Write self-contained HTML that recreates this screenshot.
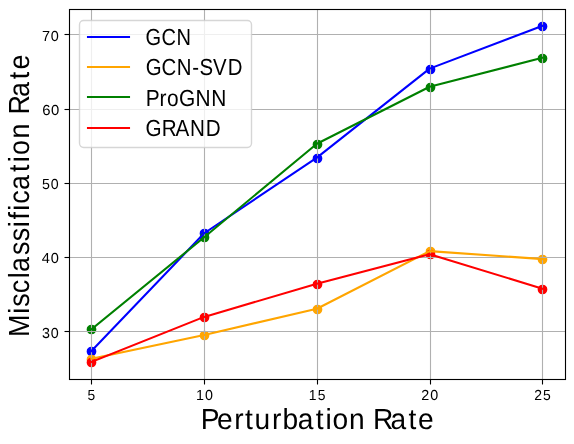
<!DOCTYPE html>
<html><head><meta charset="utf-8"><title>Misclassification Rate vs Perturbation Rate</title>
<style>
html,body{margin:0;padding:0;background:#fff;}
svg{display:block;will-change:transform;}
text{font-family:"Liberation Sans",sans-serif;fill:#000;text-rendering:geometricPrecision;}
</style></head><body>
<svg width="574" height="444" viewBox="0 0 574 444">
<rect x="0" y="0" width="574" height="444" fill="#fff"/>
<defs><clipPath id="ax"><rect x="68.903" y="9.122" width="496.000" height="369.600"/></clipPath></defs>
<g clip-path="url(#ax)">
<g fill="#0000ff" stroke="#0000ff" stroke-width="1.389"><circle cx="91.5" cy="351.5" r="4.167"/><circle cx="204.5" cy="233.5" r="4.167"/><circle cx="317.5" cy="158.5" r="4.167"/><circle cx="430.5" cy="69.5" r="4.167"/><circle cx="542.5" cy="26.5" r="4.167"/></g>
<g fill="#ffa500" stroke="#ffa500" stroke-width="1.389"><circle cx="91.5" cy="359.5" r="4.167"/><circle cx="204.5" cy="335.5" r="4.167"/><circle cx="317.5" cy="309.5" r="4.167"/><circle cx="430.5" cy="251.5" r="4.167"/><circle cx="542.5" cy="259.5" r="4.167"/></g>
<g fill="#008000" stroke="#008000" stroke-width="1.389"><circle cx="91.5" cy="329.5" r="4.167"/><circle cx="204.5" cy="237.5" r="4.167"/><circle cx="317.5" cy="144.5" r="4.167"/><circle cx="430.5" cy="87.5" r="4.167"/><circle cx="542.5" cy="58.5" r="4.167"/></g>
<g fill="#ff0000" stroke="#ff0000" stroke-width="1.389"><circle cx="91.5" cy="362.5" r="4.167"/><circle cx="204.5" cy="317.5" r="4.167"/><circle cx="317.5" cy="284.5" r="4.167"/><circle cx="430.5" cy="254.5" r="4.167"/><circle cx="542.5" cy="289.5" r="4.167"/></g>
</g>
<g stroke="#b0b0b0" stroke-width="1.111" fill="none">
<line x1="91.5" y1="9.5" x2="91.5" y2="379.5"/><line x1="204.5" y1="9.5" x2="204.5" y2="379.5"/><line x1="317.5" y1="9.5" x2="317.5" y2="379.5"/><line x1="430.5" y1="9.5" x2="430.5" y2="379.5"/><line x1="542.5" y1="9.5" x2="542.5" y2="379.5"/><line x1="69.5" y1="331.5" x2="565.5" y2="331.5"/><line x1="69.5" y1="257.5" x2="565.5" y2="257.5"/><line x1="69.5" y1="183.5" x2="565.5" y2="183.5"/><line x1="69.5" y1="109.5" x2="565.5" y2="109.5"/><line x1="69.5" y1="34.5" x2="565.5" y2="34.5"/>
</g>
<g stroke="#000" stroke-width="1.111">
<line x1="91.5" y1="379.5" x2="91.5" y2="384.5"/><line x1="204.5" y1="379.5" x2="204.5" y2="384.5"/><line x1="317.5" y1="379.5" x2="317.5" y2="384.5"/><line x1="430.5" y1="379.5" x2="430.5" y2="384.5"/><line x1="542.5" y1="379.5" x2="542.5" y2="384.5"/><line x1="64.5" y1="331.5" x2="69.5" y2="331.5"/><line x1="64.5" y1="257.5" x2="69.5" y2="257.5"/><line x1="64.5" y1="183.5" x2="69.5" y2="183.5"/><line x1="64.5" y1="109.5" x2="69.5" y2="109.5"/><line x1="64.5" y1="34.5" x2="69.5" y2="34.5"/>
</g>
<g clip-path="url(#ax)" fill="none" stroke-linejoin="round" stroke-linecap="square">
<polyline points="91.45,351.08 204.18,233.26 316.90,157.63 429.63,68.64 542.36,25.92" stroke="#0000ff" stroke-width="2.083"/>
<polyline points="91.45,358.80 204.18,335.03 316.90,308.73 429.63,251.16 542.36,259.03" stroke="#ffa500" stroke-width="2.083"/>
<polyline points="91.45,329.38 204.18,237.19 316.90,143.74 429.63,86.76 542.36,57.87" stroke="#008000" stroke-width="2.083"/>
<polyline points="91.45,361.92 204.18,316.90 316.90,283.77 429.63,254.21 542.36,288.67" stroke="#ff0000" stroke-width="2.083"/>
</g>
<rect x="69.5" y="9.5" width="496.0" height="370.0" fill="none" stroke="#000" stroke-width="1.111" stroke-linejoin="miter"/>
<rect x="79.5" y="20.5" width="172.0" height="127.0" rx="4.167" ry="4.167" fill="#fff" fill-opacity="0.8" stroke="#ccc" stroke-opacity="0.8" stroke-width="1.389"/>
<line x1="88" y1="37" x2="129" y2="37" stroke="#0000ff" stroke-width="2.083" stroke-linecap="square"/>
<line x1="88" y1="67" x2="129" y2="67" stroke="#ffa500" stroke-width="2.083" stroke-linecap="square"/>
<line x1="88" y1="97" x2="129" y2="97" stroke="#008000" stroke-width="2.083" stroke-linecap="square"/>
<line x1="88" y1="128" x2="129" y2="128" stroke="#ff0000" stroke-width="2.083" stroke-linecap="square"/>
<text transform="translate(86.953,400.000) scale(0.9506,1)" x="0.55" y="0" font-size="14.535">5</text>
<text transform="translate(195.687,400.000) scale(0.9858,1)" x="0.37 9.39" y="0" font-size="14.535">10</text>
<text transform="translate(308.361,400.000) scale(0.9561,1)" x="0.51 9.75" y="0" font-size="14.535">15</text>
<text transform="translate(420.923,400.000) scale(0.9895,1)" x="0.23 9.34" y="0" font-size="14.535">20</text>
<text transform="translate(533.794,400.000) scale(0.9606,1)" x="0.36 9.69" y="0" font-size="14.535">25</text>
<text transform="translate(41.596,338.000) scale(0.9874,1)" x="0.45 9.37" y="0" font-size="14.535">30</text>
<text transform="translate(41.516,263.000) scale(1.0073,1)" x="0.34 9.10" y="0" font-size="14.535">40</text>
<text transform="translate(41.498,189.000) scale(0.9791,1)" x="0.41 9.48" y="0" font-size="14.535">50</text>
<text transform="translate(42.006,115.000) scale(1.0246,1)" x="0.27 8.88" y="0" font-size="14.535">60</text>
<text transform="translate(41.534,41.000) scale(0.9966,1)" x="0.36 9.25" y="0" font-size="14.535">70</text>
<text transform="translate(145.303,45.000) scale(0.8626,1)" x="0.28 18.66 36.28" y="0" font-size="23.256">GCN</text>
<text transform="translate(145.575,75.000) scale(0.8772,1)" x="0.13 18.21 35.54 53.27 61.36 76.92 93.65" y="0" font-size="23.256">GCN-SVD</text>
<text transform="translate(146.086,106.000) scale(0.8984,1)" x="-0.36 14.96 23.22 36.73 55.08 72.46" y="0" font-size="23.256">ProGNN</text>
<text transform="translate(145.567,136.000) scale(0.8890,1)" x="0.02 18.34 33.78 49.95 67.84" y="0" font-size="23.256">GRAND</text>
<text transform="translate(201.825,429.000) scale(0.9692,1)" x="-1.04 15.73 33.39 44.54 54.47 72.50 83.14 98.92 117.60 127.61 134.85 151.85 168.79 176.54 194.64 213.32 223.11" y="0" font-size="29.070">Perturbation Rate</text>
<text transform="translate(29.000,337.258) rotate(-90) scale(0.9235,1)" x="0.23 25.40 32.95 47.71 63.90 70.71 88.97 103.85 119.11 127.65 137.10 144.53 159.59 178.97 189.43 197.28 215.12 232.69 241.17 260.05 279.43 289.90" y="0" font-size="29.070">Misclassification Rate</text>
</svg>
</body></html>
